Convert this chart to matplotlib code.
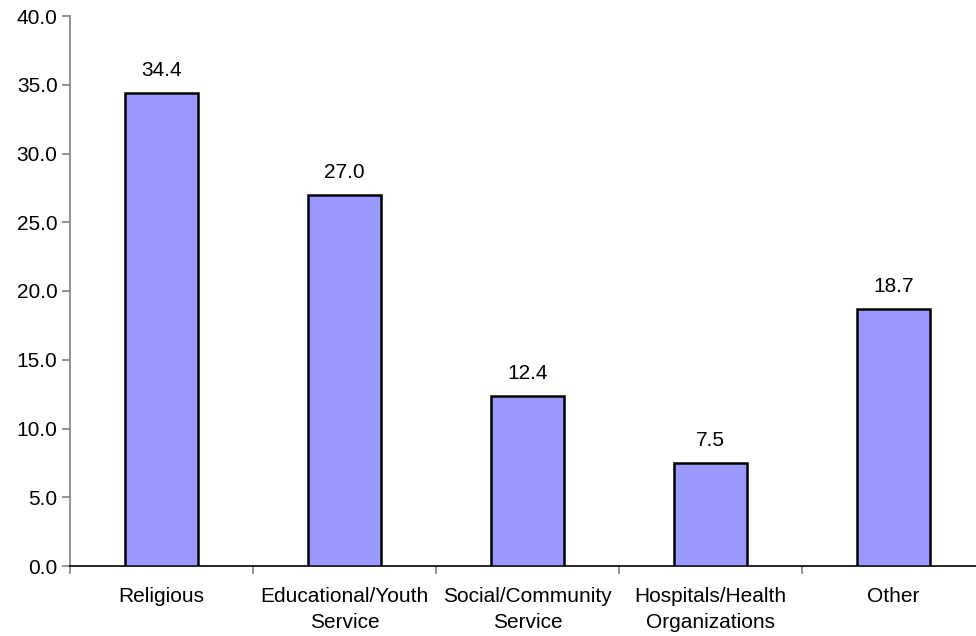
import matplotlib
matplotlib.use("Agg")
import matplotlib.pyplot as plt

categories = ["Religious", "Educational/Youth\nService", "Social/Community\nService",
              "Hospitals/Health\nOrganizations", "Other"]
values = [34.4, 27.0, 12.4, 7.5, 18.7]
yticks = [0, 5, 10, 15, 20, 25, 30, 35, 40]

plt.rcParams['font.family'] = ['Liberation Sans', 'DejaVu Sans']
FS = 15

fig = plt.figure(figsize=(9.76, 6.36), dpi=100)
ax = fig.add_axes([70/976, 1-566/636, 915/976, 550/636])

x = list(range(len(categories)))
ax.bar(x, values, width=0.4, color='#9999FF', edgecolor='black', linewidth=1.8, zorder=3)
for xi, v in zip(x, values):
    ax.annotate(f"{v:.1f}", (xi, v), xytext=(0, 9), textcoords='offset points',
                ha='center', va='bottom', fontsize=FS, color='black')

ax.set_xlim(-0.5, 4.5)
ax.set_ylim(0, 40)
ax.set_yticks(yticks)
ax.set_yticklabels([f"{t:.1f}" for t in yticks], fontsize=FS)
ax.set_xticks([i + 0.5 for i in range(-1, 5)], minor=False)
ax.set_xticklabels([])
ax.set_xticks(x, minor=True)
ax.set_xticklabels(categories, minor=True, fontsize=FS, linespacing=1.45)
ax.tick_params(axis='x', which='minor', length=0, pad=15)
ax.tick_params(axis='x', which='major', length=6, color='#808080', width=1.2)
ax.tick_params(axis='y', length=6, color='#808080', width=1.2, pad=3)

for s in ['top', 'right']:
    ax.spines[s].set_visible(False)
ax.spines['left'].set_color('#808080')
ax.spines['left'].set_linewidth(1.2)
ax.spines['bottom'].set_color('black')
ax.spines['bottom'].set_linewidth(1.2)

fig.savefig("out.png", dpi=100)
